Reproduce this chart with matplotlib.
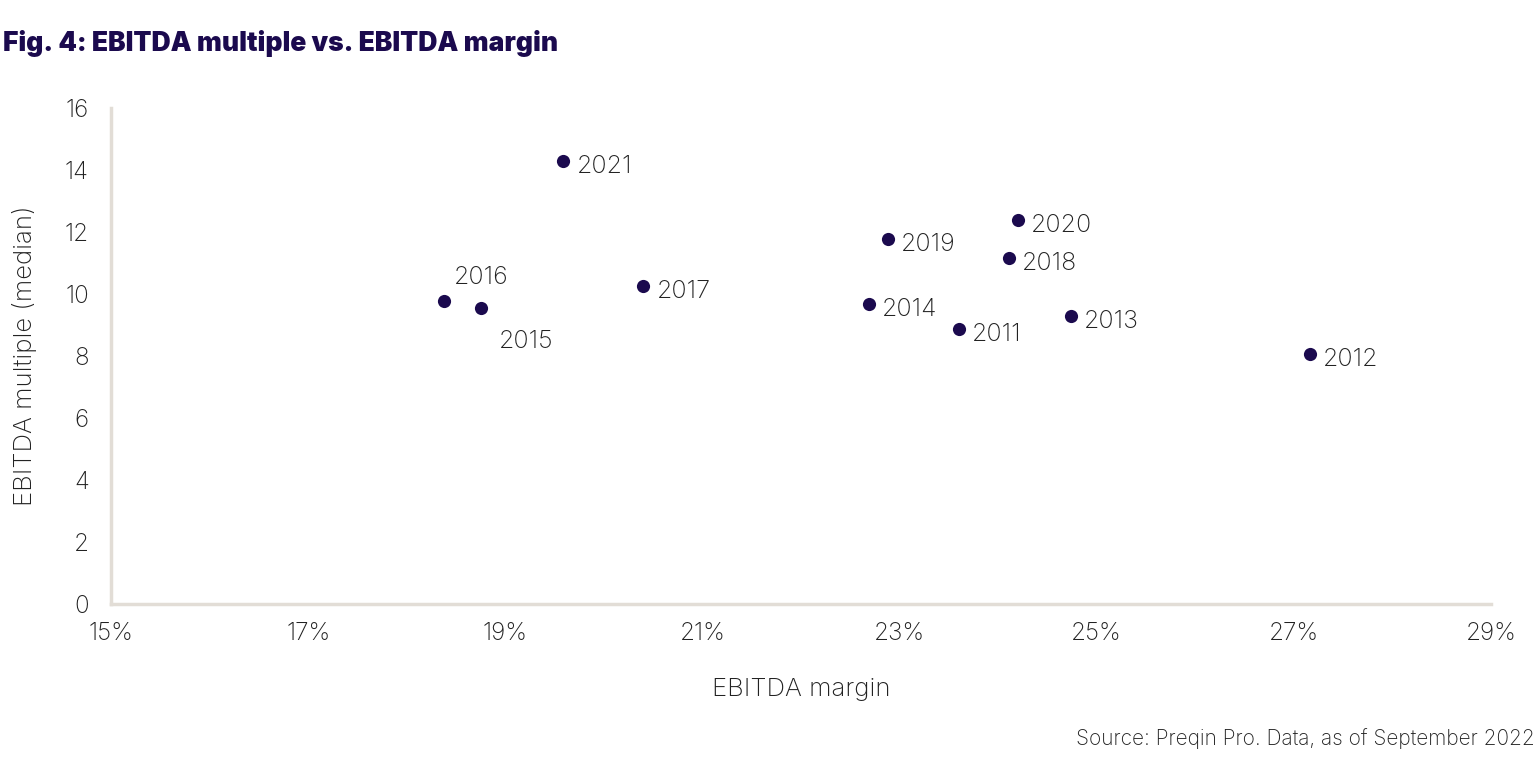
import matplotlib
matplotlib.use("Agg")
import matplotlib.pyplot as plt
from matplotlib.ticker import FuncFormatter

years = ["2011", "2012", "2013", "2014", "2015", "2016", "2017", "2018", "2019", "2020", "2021"]
margin = [23.60, 27.16, 24.74, 22.69, 18.75, 18.38, 20.40, 24.11, 22.88, 24.20, 19.59]
multiple = [8.87, 8.06, 9.29, 9.68, 9.55, 9.77, 10.26, 11.16, 11.77, 12.39, 14.29]

# label offsets in points (styling)
offsets = {"2016": (7, 17), "2015": (13, -24)}

navy = "#1b0a4e"
axis_col = "#e2ddd6"
text_col = "#222222"

plt.rcParams['font.family'] = ['Inter', 'DejaVu Sans']

fig = plt.figure(figsize=(15.36, 7.69), dpi=100)
ax = fig.add_axes([0.0723, 0.2146, 0.8984, 0.645])

ax.scatter(margin, multiple, s=90, color=navy, zorder=3, linewidths=0)
for x, y, lab in zip(margin, multiple, years):
    dx, dy = offsets.get(lab, (9.5, -4))
    ax.annotate(lab, (x, y), xytext=(dx, dy), textcoords="offset points",
                ha="left", va="center", fontsize=18, color=text_col, fontweight="light")

ax.set_xlim(15, 29)
ax.set_ylim(0, 16)
ax.set_xticks(range(15, 30, 2))
ax.set_yticks(range(0, 17, 2))
ax.xaxis.set_major_formatter(FuncFormatter(lambda v, p: f"{int(round(v))}%"))
ax.tick_params(length=0, labelsize=17.5, colors=text_col)
ax.tick_params(axis="x", pad=13)
ax.tick_params(axis="y", pad=16)
for lbl in ax.get_xticklabels() + ax.get_yticklabels():
    lbl.set_fontweight("light")
for s in ["top", "right"]:
    ax.spines[s].set_visible(False)
for s in ["left", "bottom"]:
    ax.spines[s].set_color(axis_col)
    ax.spines[s].set_linewidth(2.5)

ax.set_xlabel("EBITDA margin", fontsize=18.5, color=text_col, fontweight="light", labelpad=24)
ax.set_ylabel("EBITDA multiple (median)", fontsize=18.5, color=text_col, fontweight="light", labelpad=20)

fig.text(0.002, 0.943, "Fig. 4: EBITDA multiple vs. EBITDA margin", fontsize=19,
         fontweight="black", color=navy, ha="left", va="center")
fig.text(0.999, 0.04, "Source: Preqin Pro. Data, as of September 2022", fontsize=15,
         fontweight="light", color=text_col, ha="right", va="center")

fig.savefig("out.png", dpi=100)
